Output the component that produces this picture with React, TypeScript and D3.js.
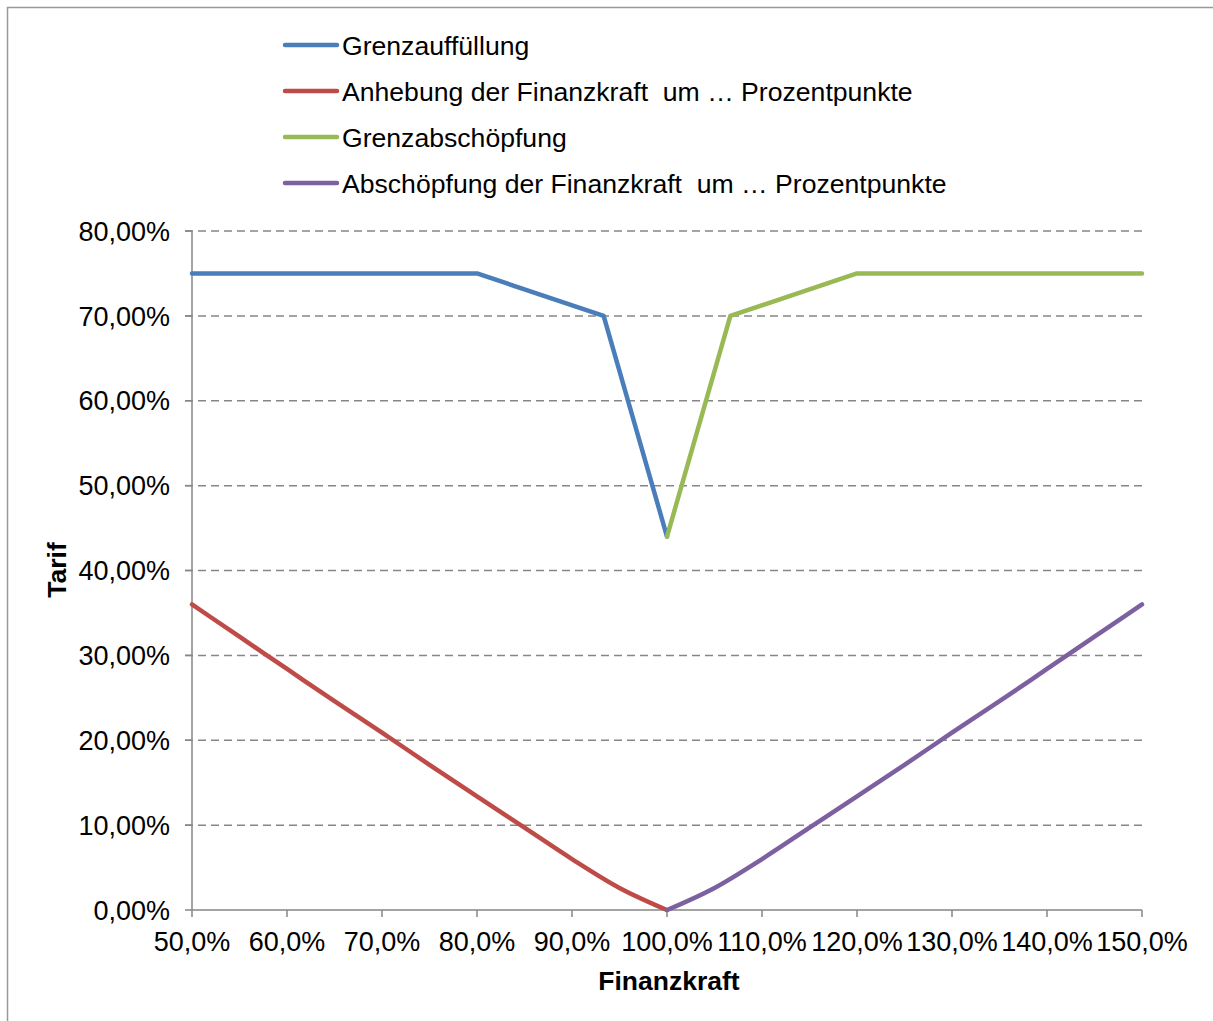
import React from "react";
import * as d3 from "d3";

// Finanzkraft (x, %) and Tarif (y, %) per series
const xTicks = [50, 60, 70, 80, 90, 100, 110, 120, 130, 140, 150];
const yTicks = [0, 10, 20, 30, 40, 50, 60, 70, 80];

const grenzAuffX = [50, 80, 93.33, 100];
const grenzAuffY = [75, 75, 70, 44];

const anhebungX = [50, 55, 60, 65, 70, 75, 80, 85, 90, 95, 100];
const anhebungY = [36, 32.2, 28.4, 24.6, 20.9, 17.1, 13.4, 9.7, 6.0, 2.6, 0];

const grenzAbsX = [100, 106.67, 120, 150];
const grenzAbsY = [44, 70, 75, 75];

const abschX = [100, 105, 110, 115, 120, 125, 130, 135, 140, 145, 150];
const abschY = [0, 2.6, 6.0, 9.7, 13.4, 17.1, 20.9, 24.6, 28.4, 32.2, 36];

const seriesNames = [
  "Grenzauffüllung",
  "Anhebung der Finanzkraft  um … Prozentpunkte",
  "Grenzabschöpfung",
  "Abschöpfung der Finanzkraft  um … Prozentpunkte",
];
const seriesColors = ["#4a7ebb", "#be4b48", "#98b954", "#7d60a0"];

const W = 1213;
const H = 1021;
const FONT = "'Liberation Sans', Arial, sans-serif";

export default function App() {
  const x = d3.scaleLinear().domain([50, 150]).range([192, 1142]);
  const y = d3.scaleLinear().domain([0, 80]).range([910, 231]);

  const straight = d3
    .line<[number, number]>()
    .x((d) => x(d[0]))
    .y((d) => y(d[1]));
  const smooth = d3
    .line<[number, number]>()
    .x((d) => x(d[0]))
    .y((d) => y(d[1]))
    .curve(d3.curveMonotoneX);
  const lineFns = [straight, smooth, straight, smooth];

  const series = [
    d3.zip(grenzAuffX, grenzAuffY),
    d3.zip(anhebungX, anhebungY),
    d3.zip(grenzAbsX, grenzAbsY),
    d3.zip(abschX, abschY),
  ] as [number, number][][];

  const fmtX = (v: number) => v.toFixed(1).replace(".", ",") + "%";
  const fmtY = (v: number) => v.toFixed(2).replace(".", ",") + "%";

  return (
    <svg
      width={W}
      height={H}
      style={{ position: "absolute", left: 0, top: 0, background: "#fff" }}
      fontFamily={FONT}
    >
      <rect x={7.5} y={7.5} width={1300} height={1100} fill="#fff" stroke="#999" strokeWidth={1.5} />

      {/* grid lines */}
      {yTicks.filter((t) => t > 0).map((t) => (
        <line
          key={"g" + t}
          x1={185}
          x2={x(150)}
          y1={y(t)}
          y2={y(t)}
          stroke="#868686"
          strokeWidth={1.5}
          strokeDasharray="8,5"
        />
      ))}

      {/* y axis */}
      <line x1={x(50)} x2={x(50)} y1={y(80)} y2={y(0)} stroke="#868686" strokeWidth={1.5} />
      {yTicks.map((t) => (
        <g key={"y" + t}>
          <line x1={185} x2={x(50)} y1={y(t)} y2={y(t)} stroke="#868686" strokeWidth={1.5} />
          <text x={170} y={y(t)} dy="0.36em" textAnchor="end" fontSize={27} fill="#000">
            {fmtY(t)}
          </text>
        </g>
      ))}

      {/* x axis */}
      <line x1={x(50)} x2={x(150)} y1={y(0)} y2={y(0)} stroke="#868686" strokeWidth={1.5} />
      {xTicks.map((t) => (
        <g key={"x" + t}>
          <line x1={x(t)} x2={x(t)} y1={y(0)} y2={y(0) + 7} stroke="#868686" strokeWidth={1.5} />
          <text x={x(t)} y={951} textAnchor="middle" fontSize={27} fill="#000">
            {fmtX(t)}
          </text>
        </g>
      ))}

      {/* series */}
      {series.map((s, i) => (
        <path
          key={"s" + i}
          d={lineFns[i](s) || ""}
          fill="none"
          stroke={seriesColors[i]}
          strokeWidth={4.5}
          strokeLinejoin="round"
          strokeLinecap="round"
        />
      ))}

      {/* axis titles */}
      <text x={669} y={990} textAnchor="middle" fontSize={26.5} fontWeight="bold" fill="#000">
        Finanzkraft
      </text>
      <text
        transform={`translate(66,${570}) rotate(-90)`}
        textAnchor="middle"
        fontSize={26.5}
        fontWeight="bold"
        fill="#000"
      >
        Tarif
      </text>

      {/* legend */}
      {seriesNames.map((n, i) => {
        const ly = 45 + i * 46;
        return (
          <g key={"l" + i}>
            <line x1={285} x2={337} y1={ly} y2={ly} stroke={seriesColors[i]} strokeWidth={4.5} strokeLinecap="round" />
            <text x={342} y={ly} dy="0.36em" fontSize={26.6} fill="#000" style={{ whiteSpace: "pre" }}>
              {n}
            </text>
          </g>
        );
      })}
    </svg>
  );
}
